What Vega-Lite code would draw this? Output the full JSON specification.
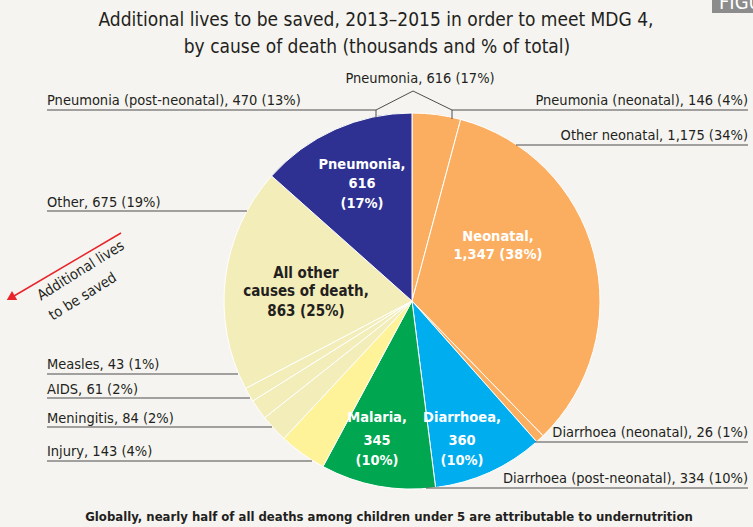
{
  "$schema": "https://vega.github.io/schema/vega-lite/v6.json",
  "autosize": {"type": "none"},
  "width": 376,
  "height": 376,
  "padding": {"left": 224, "top": 113, "right": 153, "bottom": 38},
  "background": "#F5F4F0",
  "config": {"view": {"stroke": null}},
  "datasets": {
    "causes": [
      {"cause": "Pneumonia (neonatal)", "value": 146, "idx": 1},
      {"cause": "Other neonatal", "value": 1175, "idx": 2},
      {"cause": "Diarrhoea (neonatal)", "value": 26, "idx": 3},
      {"cause": "Diarrhoea (post-neonatal)", "value": 334, "idx": 4},
      {"cause": "Malaria", "value": 345, "idx": 5},
      {"cause": "Injury", "value": 143, "idx": 6},
      {"cause": "Meningitis", "value": 84, "idx": 7},
      {"cause": "AIDS", "value": 61, "idx": 8},
      {"cause": "Measles", "value": 43, "idx": 9},
      {"cause": "Other", "value": 675, "idx": 10},
      {"cause": "Pneumonia (post-neonatal)", "value": 470, "idx": 11}
    ],
    "leaders": [
      {"x": 47, "y": 110, "x2": 376, "y2": 110},
      {"x": 376, "y": 110, "x2": 376, "y2": 118},
      {"x": 376, "y": 110, "x2": 413, "y2": 91},
      {"x": 413, "y": 91, "x2": 452, "y2": 110},
      {"x": 452, "y": 110, "x2": 452, "y2": 119},
      {"x": 452, "y": 110, "x2": 748, "y2": 110},
      {"x": 516, "y": 145, "x2": 748, "y2": 145},
      {"x": 535, "y": 442, "x2": 748, "y2": 442},
      {"x": 426, "y": 488, "x2": 748, "y2": 488},
      {"x": 47, "y": 211, "x2": 247, "y2": 211},
      {"x": 47, "y": 374, "x2": 238, "y2": 374},
      {"x": 47, "y": 398, "x2": 250, "y2": 398},
      {"x": 47, "y": 427, "x2": 272, "y2": 427},
      {"x": 47, "y": 461, "x2": 312, "y2": 461}
    ],
    "leftLabels": [
      {"label": "Pneumonia (post-neonatal), 470 (13%)", "x": 47, "y": 101},
      {"label": "Other, 675 (19%)", "x": 47, "y": 203},
      {"label": "Measles, 43 (1%)", "x": 47, "y": 365},
      {"label": "AIDS, 61 (2%)", "x": 47, "y": 390},
      {"label": "Meningitis, 84 (2%)", "x": 47, "y": 419},
      {"label": "Injury, 143 (4%)", "x": 47, "y": 452}
    ],
    "rightLabels": [
      {"label": "Pneumonia (neonatal), 146 (4%)", "x": 748, "y": 101},
      {"label": "Other neonatal, 1,175 (34%)", "x": 748, "y": 136},
      {"label": "Diarrhoea (neonatal), 26 (1%)", "x": 748, "y": 433},
      {"label": "Diarrhoea (post-neonatal), 334 (10%)", "x": 748, "y": 479}
    ],
    "whiteLabels": [
      {"label": "Pneumonia,", "x": 362, "y": 165},
      {"label": "616", "x": 362, "y": 184},
      {"label": "(17%)", "x": 362, "y": 204},
      {"label": "Neonatal,", "x": 498, "y": 237},
      {"label": "1,347 (38%)", "x": 498, "y": 255},
      {"label": "Malaria,", "x": 377, "y": 418},
      {"label": "345", "x": 377, "y": 441},
      {"label": "(10%)", "x": 377, "y": 461},
      {"label": "Diarrhoea,", "x": 462, "y": 418},
      {"label": "360", "x": 462, "y": 441},
      {"label": "(10%)", "x": 462, "y": 461}
    ],
    "darkLabels": [
      {"label": "All other", "x": 306, "y": 273},
      {"label": "causes of death,", "x": 306, "y": 291},
      {"label": "863 (25%)", "x": 306, "y": 311}
    ]
  },
  "layer": [
    {
      "data": {"name": "causes"},
      "mark": {"type": "arc", "stroke": "#FFFFFF", "strokeWidth": 1},
      "encoding": {
        "theta": {"field": "value", "type": "quantitative", "stack": true},
        "order": {"field": "idx", "type": "quantitative"},
        "color": {
          "field": "cause", "type": "nominal", "legend": null,
          "scale": {
            "domain": ["Pneumonia (neonatal)", "Other neonatal", "Diarrhoea (neonatal)", "Diarrhoea (post-neonatal)", "Malaria", "Injury", "Meningitis", "AIDS", "Measles", "Other", "Pneumonia (post-neonatal)"],
            "range": ["#FBAE60", "#FBAE60", "#FBAE60", "#00AEEF", "#00A650", "#FFF39A", "#F3EDB9", "#F3EDB9", "#F3EDB9", "#F3EDB9", "#2E3192"]
          }
        }
      }
    },
    {
      "data": {"name": "leaders"},
      "mark": {"type": "rule", "color": "#4D4D4D", "strokeWidth": 1},
      "encoding": {
        "x": {"field": "x", "type": "quantitative", "scale": {"domain": [224, 600], "nice": false, "zero": false}, "axis": null},
        "y": {"field": "y", "type": "quantitative", "scale": {"domain": [113, 489], "nice": false, "zero": false, "reverse": true}, "axis": null},
        "x2": {"field": "x2"},
        "y2": {"field": "y2"}
      }
    },
    {
      "data": {"name": "leftLabels"},
      "mark": {"type": "text", "align": "left", "baseline": "middle", "font": "DejaVu Sans Condensed, sans-serif", "fontSize": 14.5, "color": "#231F20"},
      "encoding": {
        "x": {"field": "x", "type": "quantitative", "axis": null},
        "y": {"field": "y", "type": "quantitative", "axis": null},
        "text": {"field": "label"}
      }
    },
    {
      "data": {"name": "rightLabels"},
      "mark": {"type": "text", "align": "right", "baseline": "middle", "font": "DejaVu Sans Condensed, sans-serif", "fontSize": 14.5, "color": "#231F20"},
      "encoding": {
        "x": {"field": "x", "type": "quantitative", "axis": null},
        "y": {"field": "y", "type": "quantitative", "axis": null},
        "text": {"field": "label"}
      }
    },
    {
      "data": {"values": [{"label": "Pneumonia, 616 (17%)", "x": 420, "y": 79}]},
      "mark": {"type": "text", "align": "center", "baseline": "middle", "font": "DejaVu Sans Condensed, sans-serif", "fontSize": 14.5, "color": "#231F20"},
      "encoding": {
        "x": {"field": "x", "type": "quantitative", "axis": null},
        "y": {"field": "y", "type": "quantitative", "axis": null},
        "text": {"field": "label"}
      }
    },
    {
      "data": {"values": [
        {"label": "Additional lives to be saved, 2013–2015  in order to meet MDG 4,", "x": 376, "y": 20},
        {"label": "by cause of death (thousands and % of total)", "x": 377, "y": 47}
      ]},
      "mark": {"type": "text", "align": "center", "baseline": "middle", "font": "DejaVu Sans Condensed, sans-serif", "fontSize": 19, "color": "#231F20"},
      "encoding": {
        "x": {"field": "x", "type": "quantitative", "axis": null},
        "y": {"field": "y", "type": "quantitative", "axis": null},
        "text": {"field": "label"}
      }
    },
    {
      "data": {"name": "whiteLabels"},
      "mark": {"type": "text", "align": "center", "baseline": "middle", "font": "DejaVu Sans Condensed, sans-serif", "fontSize": 14.5, "fontWeight": "bold", "color": "#FFFFFF"},
      "encoding": {
        "x": {"field": "x", "type": "quantitative", "axis": null},
        "y": {"field": "y", "type": "quantitative", "axis": null},
        "text": {"field": "label"}
      }
    },
    {
      "data": {"name": "darkLabels"},
      "mark": {"type": "text", "align": "center", "baseline": "middle", "font": "DejaVu Sans Condensed, sans-serif", "fontSize": 15, "fontWeight": "bold", "color": "#231F20"},
      "encoding": {
        "x": {"field": "x", "type": "quantitative", "axis": null},
        "y": {"field": "y", "type": "quantitative", "axis": null},
        "text": {"field": "label"}
      }
    },
    {
      "data": {"values": [{"label": "Globally, nearly half of all deaths among children under 5 are attributable to undernutrition", "x": 389, "y": 517}]},
      "mark": {"type": "text", "align": "center", "baseline": "middle", "font": "DejaVu Sans Condensed, sans-serif", "fontSize": 13, "fontWeight": "bold", "color": "#231F20"},
      "encoding": {
        "x": {"field": "x", "type": "quantitative", "axis": null},
        "y": {"field": "y", "type": "quantitative", "axis": null},
        "text": {"field": "label"}
      }
    },
    {
      "data": {"values": [{"x": 121, "y": 233, "x2": 14, "y2": 296}]},
      "mark": {"type": "rule", "color": "#E8252B", "strokeWidth": 1.5},
      "encoding": {
        "x": {"field": "x", "type": "quantitative", "axis": null},
        "y": {"field": "y", "type": "quantitative", "axis": null},
        "x2": {"field": "x2"},
        "y2": {"field": "y2"}
      }
    },
    {
      "data": {"values": [{"x": 12, "y": 297}]},
      "mark": {"type": "point", "shape": "triangle", "filled": true, "color": "#E8252B", "opacity": 1, "size": 110, "angle": 240},
      "encoding": {
        "x": {"field": "x", "type": "quantitative", "axis": null},
        "y": {"field": "y", "type": "quantitative", "axis": null}
      }
    },
    {
      "data": {"values": [
        {"label": "Additional lives", "x": 81, "y": 271},
        {"label": "to be saved", "x": 83, "y": 297}
      ]},
      "mark": {"type": "text", "align": "center", "baseline": "middle", "angle": 328, "font": "DejaVu Sans Condensed, sans-serif", "fontSize": 14.5, "color": "#231F20"},
      "encoding": {
        "x": {"field": "x", "type": "quantitative", "axis": null},
        "y": {"field": "y", "type": "quantitative", "axis": null},
        "text": {"field": "label"}
      }
    },
    {
      "data": {"values": [{"x": 712, "y": 0, "x2": 753, "y2": 13}]},
      "mark": {"type": "rect", "color": "#8C8C8C"},
      "encoding": {
        "x": {"field": "x", "type": "quantitative", "axis": null},
        "y": {"field": "y", "type": "quantitative", "axis": null},
        "x2": {"field": "x2"},
        "y2": {"field": "y2"}
      }
    },
    {
      "data": {"values": [{"label": "FIGURE", "x": 719, "y": 13}]},
      "mark": {"type": "text", "align": "left", "baseline": "bottom", "font": "DejaVu Sans Condensed, sans-serif", "fontSize": 20, "color": "#FFFFFF"},
      "encoding": {
        "x": {"field": "x", "type": "quantitative", "axis": null},
        "y": {"field": "y", "type": "quantitative", "axis": null},
        "text": {"field": "label"}
      }
    }
  ]
}
